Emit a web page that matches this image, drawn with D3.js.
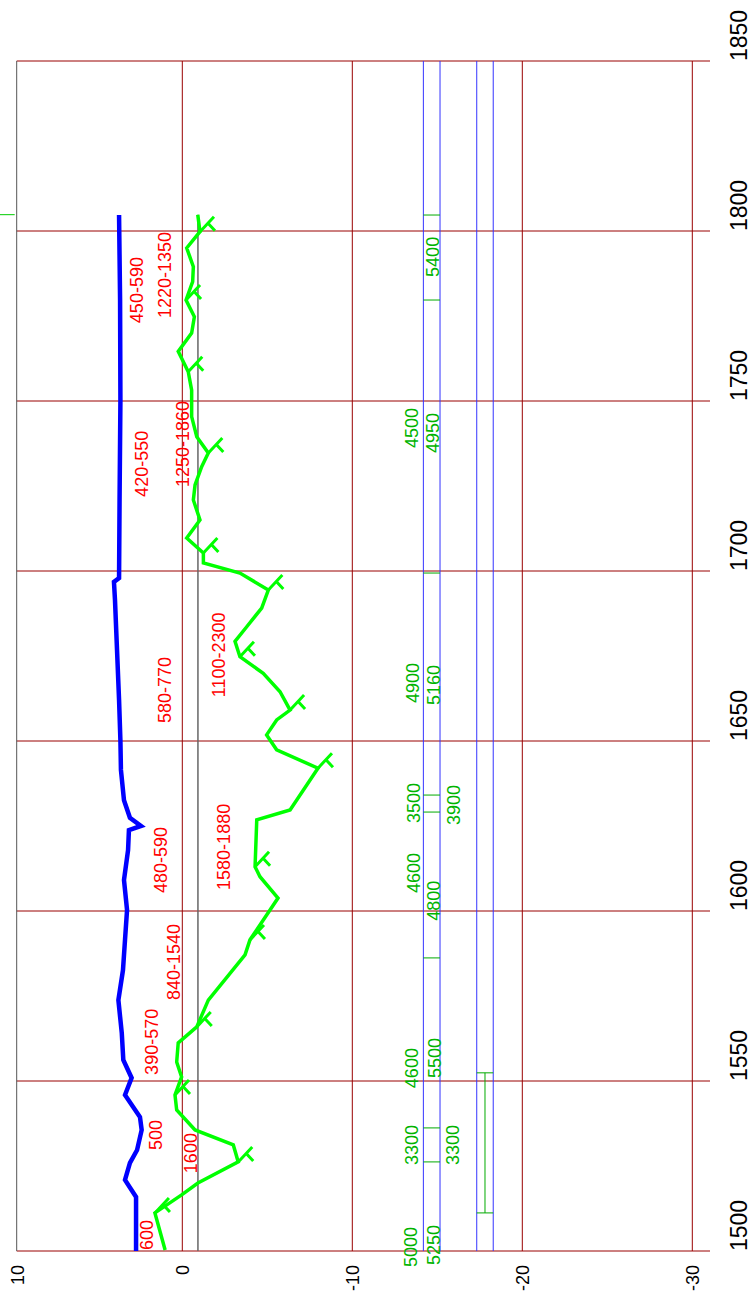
<!DOCTYPE html>
<html>
<head>
<script type="text/javascript" src="https://d3js.org/d3.v7.min.js"></script>
<style>
  body { margin: 0; background: white; }
  text { font-family: "Liberation Sans", Arial, sans-serif; }
</style>
</head>
<body>
<div id="chart"></div>
<script type="text/javascript">
// chart is drawn turned on its side: years run up the page, values run across

const yearTicks = [1500, 1550, 1600, 1650, 1700, 1750, 1800, 1850];
const valueTicks = [10, 0, -10, -20, -30];
const valueGrid = [0, -10, -20, -30];

// blue series (year, value)
const blueYears  = [1500, 1515.9, 1520.9, 1525.9, 1529.7, 1535.6, 1539.4, 1545.9, 1550.9, 1556.2, 1564.1, 1573.8, 1582.6, 1591.5, 1600.3, 1609.1, 1617.9, 1623.8, 1625, 1627.4, 1632.6, 1641.5, 1650, 1662.1, 1676.8, 1691.5, 1696.8, 1697.9, 1720.9, 1750.3, 1779.7, 1804.7];
const blueValues = [2.72, 2.72, 3.37, 3.08, 2.66, 2.39, 2.49, 3.37, 2.98, 3.47, 3.56, 3.76, 3.49, 3.37, 3.25, 3.43, 3.19, 3.14, 2.43, 3.08, 3.43, 3.61, 3.64, 3.72, 3.84, 3.96, 4.02, 3.72, 3.69, 3.64, 3.66, 3.72];

// green series (year, value)
const greenYears  = [1500.3, 1511.2, 1516.5, 1520, 1526.2, 1531.2, 1535.6, 1541.5, 1545.9, 1551.2, 1555.6, 1561.2, 1565.9, 1573.8, 1587.1, 1591.5, 1603.8, 1610.1, 1613, 1626.8, 1629.7, 1642, 1647.4, 1651.8, 1656.2, 1659.1, 1664.5, 1669.9, 1674.8, 1679.3, 1683.6, 1689.1, 1694.4, 1699.4, 1702.4, 1705.3, 1709.7, 1715, 1720.9, 1725.3, 1730.7, 1734.7, 1739.5, 1745.4, 1753.2, 1758.6, 1764.6, 1770, 1774.8, 1779.7, 1785.1, 1789.5, 1795, 1799.8, 1804.8];
const greenValues = [1.01, 1.61, 0.04, -0.92, -3.29, -3.0, -0.75, 0.33, 0.43, 0.04, 0.33, 0.24, -0.85, -1.53, -3.69, -3.98, -5.63, -4.57, -4.28, -4.38, -6.34, -7.98, -5.55, -4.96, -5.55, -6.34, -5.75, -4.76, -3.39, -3.1, -3.79, -4.67, -5.06, -3.39, -1.24, -1.24, -0.26, -1.04, -0.65, -0.75, -1.14, -1.53, -0.85, -0.55, -0.55, -0.35, 0.24, -0.55, -0.71, -0.22, -0.61, -0.65, -0.26, -1.04, -0.91];

// little barb markers on the green series
const markYears  = [1511.2, 1526.2, 1545.9, 1565.9, 1591.5, 1613, 1642, 1659.1, 1674.8, 1694.4, 1705.3, 1734.7, 1758.6, 1779.7, 1799.8];
const markValues = [1.61, -3.29, 0.43, -0.85, -3.98, -4.28, -7.98, -6.34, -3.39, -5.06, -1.24, -1.53, -0.35, -0.22, -1.04];

// grey reference line
const refValue = -0.92;
const refYears = [1500, 1804.8];

// red labels: text, start year, baseline value
const redText   = ["600", "1600", "500", "390-570", "840-1540", "480-590", "1580-1880", "580-770", "1100-2300", "420-550", "1250-1860", "450-590", "1220-1350"];
const redYears  = [1500.3, 1522.9, 1529.7, 1551.8, 1573.8, 1605.3, 1606.2, 1655.3, 1662.9, 1721.8, 1724.7, 1772.9, 1774.4];
const redValues = [1.72, -0.86, 1.19, 1.43, 0.14, 0.9, -2.81, 0.66, -2.51, 2.02, -0.39, 2.31, 0.66];

// green labels
const grnText   = ["5000", "5250", "3300", "3300", "4600", "5500", "4800", "4600", "3500", "3900", "4900", "5160", "4500", "4950", "5400"];
const grnYears  = [1495.3, 1495.9, 1525.3, 1525.3, 1547.9, 1550.9, 1597.1, 1605.3, 1625.9, 1625.3, 1661.2, 1660.6, 1736.2, 1734.7, 1786.5];
const grnValues = [-13.81, -15.16, -13.86, -16.27, -13.86, -15.2, -15.16, -13.98, -13.98, -16.33, -13.92, -15.16, -13.86, -15.1, -15.1];

// blue tracks (value pairs) and green ticks inside them
const trackValues = [-14.18, -15.16, -17.32, -18.29];
const trackTickYears = [1526.2, 1536.2, 1586.2, 1629.1, 1634.1, 1699.4, 1779.7, 1804.7];
const beamYears = [1511.2, 1552.4];

// layout
const width = 752, height = 1302;
const y = d3.scaleLinear().domain([1500, 1850]).range([1251, 61]);
const x = d3.scaleLinear().domain([10, -30]).range([12.3, 692.3]);
const leftEdge = 16.7;
const rightEdge = 710;
const gridColor = "#990000";

const svg = d3.select("#chart").append("svg")
    .attr("width", width)
    .attr("height", height)
    .style("background-color", "white");

// grid
svg.selectAll("line.hgrid")
    .data(yearTicks)
    .enter()
    .append("line")
    .attr("class", "hgrid")
    .attr("x1", leftEdge).attr("x2", rightEdge)
    .attr("y1", function(d){return y(d)}).attr("y2", function(d){return y(d)})
    .style("stroke", gridColor).style("stroke-width", 1);

svg.selectAll("line.vgrid")
    .data(valueGrid)
    .enter()
    .append("line")
    .attr("class", "vgrid")
    .attr("x1", function(d){return x(d)}).attr("x2", function(d){return x(d)})
    .attr("y1", y(1850)).attr("y2", y(1500))
    .style("stroke", gridColor).style("stroke-width", 1);

svg.append("line")
    .attr("x1", leftEdge).attr("x2", leftEdge)
    .attr("y1", y(1850)).attr("y2", y(1500))
    .style("stroke", "#555").style("stroke-width", 1);

// blue tracks
svg.selectAll("line.track")
    .data(trackValues)
    .enter()
    .append("line")
    .attr("class", "track")
    .attr("x1", function(d){return x(d)}).attr("x2", function(d){return x(d)})
    .attr("y1", y(1850)).attr("y2", y(1500))
    .style("stroke", "#3333ff").style("stroke-width", 1);

svg.selectAll("line.ttick")
    .data(trackTickYears)
    .enter()
    .append("line")
    .attr("class", "ttick")
    .attr("x1", x(trackValues[0])).attr("x2", x(trackValues[1]))
    .attr("y1", function(d){return y(d)}).attr("y2", function(d){return y(d)})
    .style("stroke", "#00aa00").style("stroke-width", 1);

svg.selectAll("line.beamcap")
    .data(beamYears)
    .enter()
    .append("line")
    .attr("class", "beamcap")
    .attr("x1", x(trackValues[2])).attr("x2", x(trackValues[3]))
    .attr("y1", function(d){return y(d)}).attr("y2", function(d){return y(d)})
    .style("stroke", "#00aa00").style("stroke-width", 1);

svg.append("line")
    .attr("x1", (x(trackValues[2]) + x(trackValues[3])) / 2)
    .attr("x2", (x(trackValues[2]) + x(trackValues[3])) / 2)
    .attr("y1", y(beamYears[0])).attr("y2", y(beamYears[1]))
    .style("stroke", "#00aa00").style("stroke-width", 1);

// grey reference
svg.append("line")
    .attr("x1", x(refValue)).attr("x2", x(refValue))
    .attr("y1", y(refYears[0])).attr("y2", y(refYears[1]))
    .style("stroke", "#666").style("stroke-width", 1.5);

// small green stub at left edge
svg.append("line")
    .attr("x1", 0).attr("x2", leftEdge - 2)
    .attr("y1", y(1804.8)).attr("y2", y(1804.8))
    .style("stroke", "#00cc00").style("stroke-width", 1);

// series
const line = d3.line()
    .x(function(d){return x(d[1])})
    .y(function(d){return y(d[0])});

svg.append("path")
    .datum(d3.zip(greenYears, greenValues))
    .attr("d", line)
    .style("fill", "none")
    .style("stroke", "#00ff00")
    .style("stroke-width", 3.5)
    .style("stroke-linejoin", "miter");

svg.append("path")
    .datum(d3.zip(blueYears, blueValues))
    .attr("d", line)
    .style("fill", "none")
    .style("stroke", "#0000ff")
    .style("stroke-width", 4.5)
    .style("stroke-linejoin", "miter");

// barbs: a staff leaning up to the right with one feather off it
const marks = d3.zip(markYears, markValues);
svg.selectAll("path.barb")
    .data(marks)
    .enter()
    .append("path")
    .attr("class", "barb")
    .attr("d", function(d){
        let px = x(d[1]), py = y(d[0]);
        return `M ${px} ${py} L ${px + 14} ${py - 15} M ${px + 8} ${py - 8.5} L ${px + 15} ${py - 1}`;
    })
    .style("fill", "none")
    .style("stroke", "#00ff00")
    .style("stroke-width", 3);

// labels
const redLabels = d3.zip(redText, redYears, redValues);
svg.selectAll("text.red")
    .data(redLabels)
    .enter()
    .append("text")
    .attr("class", "red")
    .attr("transform", function(d){return `translate(${x(d[2])},${y(d[1])}) rotate(-90)`})
    .style("font-size", "18px")
    .style("fill", "#ff0000")
    .text(function(d){return d[0]});

const grnLabels = d3.zip(grnText, grnYears, grnValues);
svg.selectAll("text.grn")
    .data(grnLabels)
    .enter()
    .append("text")
    .attr("class", "grn")
    .attr("transform", function(d){return `translate(${x(d[2])},${y(d[1])}) rotate(-90)`})
    .style("font-size", "18px")
    .style("fill", "#00b400")
    .text(function(d){return d[0]});

// axis labels
svg.selectAll("text.vtick")
    .data(valueTicks)
    .enter()
    .append("text")
    .attr("class", "vtick")
    .attr("transform", function(d){return `translate(${Math.max(x(d), 18)},1265) rotate(-90)`})
    .attr("dy", "0.35em")
    .attr("text-anchor", "end")
    .style("font-size", "18px")
    .style("fill", "#000")
    .text(function(d){return d});

svg.selectAll("text.ytick")
    .data(yearTicks)
    .enter()
    .append("text")
    .attr("class", "ytick")
    .attr("transform", function(d){return `translate(747,${y(d)}) rotate(-90)`})
    .style("font-size", "23px")
    .style("fill", "#000")
    .text(function(d){return d});
</script>
</body>
</html>
